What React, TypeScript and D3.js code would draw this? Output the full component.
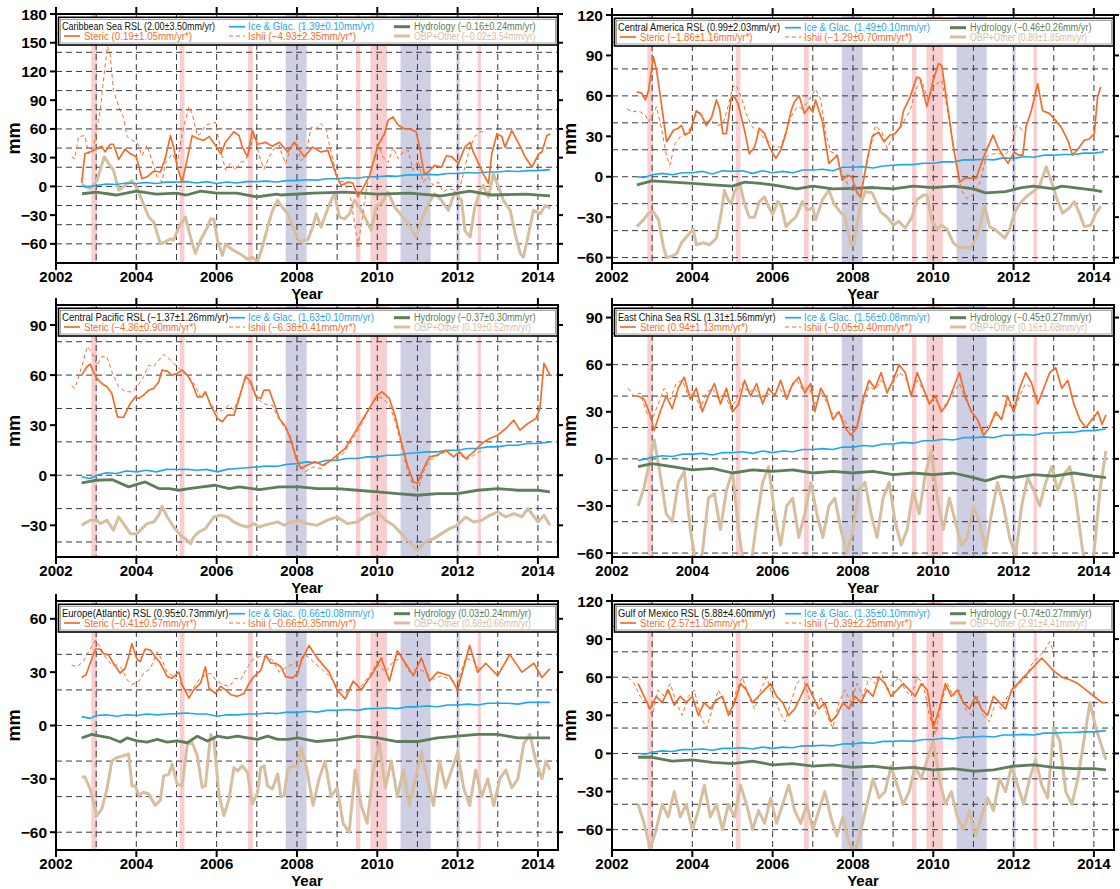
import React from 'react';
import * as d3 from 'd3';

type P = [number, number];

// ---------- shared ----------
const xTickYears = [2002, 2004, 2006, 2008, 2010, 2012, 2014];
const gridYears = [2003, 2004, 2005, 2006, 2007, 2008, 2009, 2010, 2011, 2012, 2013, 2014];
const pinkBands: P[] = [[2002.88, 2003.02], [2005.08, 2005.2], [2006.78, 2006.9], [2009.47, 2009.58], [2009.83, 2010.24], [2012.5, 2012.58]];
const blueBands: P[] = [[2007.72, 2008.24], [2010.58, 2011.33], [2011.97, 2012.05]];

// ---------- Caribbean Sea ----------
const caribSteric: P[] = [[2002.64,3.5],[2002.72,34],[2002.85,36],[2003.0,39],[2003.14,42],[2003.22,36],[2003.35,44],[2003.43,44],[2003.56,28],[2003.72,39],[2003.85,34],[2004.0,31],[2004.14,8],[2004.27,10],[2004.43,16],[2004.6,15],[2004.72,29],[2004.85,53],[2004.93,41],[2005.02,20],[2005.14,4.5],[2005.27,29],[2005.39,53],[2005.52,50],[2005.68,48],[2005.81,52],[2005.97,43],[2006.1,34],[2006.22,46],[2006.43,57],[2006.56,53],[2006.64,41],[2006.77,31],[2006.89,58.5],[2007.02,44],[2007.22,46],[2007.39,42],[2007.56,46],[2007.77,36],[2007.93,46],[2008.18,31],[2008.39,41],[2008.6,36],[2008.77,37.6],[2008.98,11.5],[2009.1,1],[2009.27,4.5],[2009.39,3.5],[2009.52,-11],[2009.64,-2.4],[2009.81,11.5],[2010.02,43],[2010.18,55],[2010.27,69],[2010.39,72.5],[2010.52,64],[2010.68,60],[2010.81,60],[2010.97,57],[2011.06,39],[2011.17,13],[2011.27,15],[2011.43,22],[2011.6,20],[2011.72,32],[2011.85,31],[2012.02,24],[2012.18,41],[2012.31,46],[2012.39,36],[2012.52,24],[2012.64,13],[2012.77,3],[2012.85,34],[2012.98,55],[2013.1,52],[2013.18,41],[2013.35,58.5],[2013.52,45],[2013.68,31],[2013.85,20],[2014.02,34],[2014.1,36],[2014.22,53],[2014.31,55]];
const caribIshii: P[] = [[2002.39,31],[2002.47,29],[2002.56,52],[2002.72,53],[2002.81,34],[2002.93,41],[2003.02,62],[2003.1,79],[2003.22,125],[2003.28,146],[2003.35,137],[2003.43,100],[2003.6,79],[2003.68,72],[2003.77,52],[2003.89,48],[2004.02,46],[2004.14,32],[2004.27,43],[2004.39,27],[2004.52,10],[2004.64,4.5],[2004.72,24],[2004.89,34],[2005.02,24],[2005.14,55],[2005.31,83],[2005.39,76],[2005.52,53],[2005.6,55],[2005.72,64],[2005.85,65.5],[2005.97,67],[2006.1,38],[2006.22,17],[2006.35,24],[2006.47,17],[2006.6,25],[2006.72,27],[2006.85,41],[2006.93,55],[2007.06,32],[2007.18,18],[2007.31,31],[2007.43,39],[2007.56,43],[2007.6,36],[2007.72,24],[2007.85,41],[2007.98,46],[2008.1,27],[2008.22,31],[2008.35,62],[2008.48,60],[2008.6,65.5],[2008.72,60],[2008.85,36],[2009.02,6],[2009.18,4.5],[2009.35,-14.6],[2009.52,-63],[2009.64,-28.6],[2009.73,-2.4],[2009.85,18.5],[2010.02,44.6],[2010.14,31],[2010.27,25],[2010.39,41],[2010.52,29],[2010.64,36],[2010.77,37.6],[2010.89,17],[2011.02,27],[2011.14,4.5],[2011.27,10],[2011.39,1],[2011.52,4.5],[2011.64,-6],[2011.77,-2.4],[2011.93,-4],[2012.06,-0.7],[2012.18,20],[2012.31,41],[2012.43,52],[2012.56,57],[2012.64,57]];
const caribIce: P[] = [[2002.65,0],[2002.8,-0.5],[2003.0,1],[2003.25,2.5],[2003.5,2],[2003.75,3.5],[2004.0,3],[2004.25,4],[2004.5,3],[2004.75,4.5],[2005.0,4.5],[2005.25,5],[2005.5,3.5],[2005.75,5],[2006.0,3],[2006.25,4.5],[2006.5,3.5],[2006.75,5],[2007.0,5],[2007.25,5.5],[2007.5,4.5],[2007.75,6],[2008.0,6],[2008.25,7],[2008.5,6.5],[2008.75,8],[2009.0,8],[2009.25,9],[2009.5,8.5],[2009.75,10],[2010.0,10],[2010.25,11],[2010.5,10.5],[2010.75,12],[2011.0,12],[2011.25,12.5],[2011.5,12],[2011.75,13.5],[2012.0,13.5],[2012.25,14.5],[2012.5,14],[2012.75,15],[2013.0,15],[2013.25,16],[2013.5,15.5],[2013.75,16.5],[2014.0,16.5],[2014.3,17.5]];
const caribHydro: P[] = [[2002.65,-7.7],[2003.0,-6],[2003.5,-9],[2004.0,-5],[2004.5,-8],[2005.0,-7],[2005.25,-9],[2005.6,-5],[2006.0,-7],[2006.5,-7],[2007.0,-11],[2007.5,-8],[2007.6,-9],[2008.4,-7],[2009.2,-6],[2010.0,-8],[2010.8,-7],[2011.6,-10],[2012.3,-5],[2012.85,-9],[2013.7,-8],[2014.3,-10]];
const caribObp: P[] = [[2002.64,2],[2002.85,-2.4],[2003.02,6],[2003.2,31],[2003.31,24],[2003.43,17],[2003.56,-4],[2003.72,1],[2003.89,6],[2004.02,-2.4],[2004.14,-14.6],[2004.31,-32],[2004.43,-37],[2004.6,-60],[2004.72,-58],[2004.85,-55],[2004.93,-56],[2005.06,-42.5],[2005.22,-32],[2005.35,-53],[2005.47,-70],[2005.6,-56],[2005.77,-42.5],[2005.85,-34],[2005.93,-34],[2006.02,-56],[2006.14,-72],[2006.22,-60],[2006.35,-65],[2006.52,-69],[2006.64,-72],[2006.77,-76],[2006.89,-74],[2007.02,-79],[2007.14,-63],[2007.27,-42.5],[2007.39,-25],[2007.52,-14.6],[2007.6,-20],[2007.77,-28.6],[2007.93,-46],[2008.06,-58],[2008.18,-56],[2008.27,-56],[2008.39,-42.5],[2008.48,-28.6],[2008.6,-42.5],[2008.72,-28.6],[2008.85,-14.6],[2008.93,-7.7],[2009.06,-32],[2009.18,-34],[2009.31,-28.6],[2009.43,-14.6],[2009.56,-21.6],[2009.73,-35.5],[2009.85,-46],[2009.98,-20],[2010.1,-18],[2010.27,-6],[2010.43,-21.6],[2010.6,-30],[2010.77,-39],[2010.97,-53],[2011.1,-35.5],[2011.27,-18],[2011.43,-7.7],[2011.6,-14.6],[2011.77,-25],[2011.93,-6],[2012.1,-14.6],[2012.18,-46],[2012.31,-53],[2012.43,-21.6],[2012.56,-4],[2012.64,1],[2012.77,-11],[2012.89,13],[2013.02,-0.7],[2013.14,-14.6],[2013.31,-25],[2013.43,-49],[2013.56,-70],[2013.64,-74],[2013.77,-49],[2013.89,-25],[2014.06,-28.6],[2014.18,-20],[2014.31,-23]];

// ---------- Central America ----------
const camSteric: P[] = [[2002.62,63],[2002.74,62],[2002.83,57],[2002.91,64],[2003.03,89],[2003.11,79],[2003.24,52],[2003.36,26],[2003.53,34.5],[2003.65,36],[2003.73,38],[2003.82,31],[2003.94,33],[2004.1,49],[2004.23,45.6],[2004.35,38],[2004.48,44],[2004.6,57],[2004.68,50.5],[2004.76,32],[2004.85,32],[2004.97,59],[2005.05,59],[2005.14,54],[2005.3,34.5],[2005.42,17],[2005.55,22],[2005.67,36],[2005.8,32],[2005.92,22],[2006.08,13.6],[2006.2,19.7],[2006.33,32],[2006.46,49],[2006.54,55.5],[2006.66,60],[2006.79,47],[2006.91,52],[2007.0,48],[2007.07,57],[2007.24,41],[2007.32,25],[2007.4,10],[2007.53,13.6],[2007.61,16],[2007.73,-2.5],[2007.86,1],[2007.97,0],[2008.1,-12],[2008.19,-15],[2008.35,12],[2008.48,30],[2008.64,33],[2008.77,26],[2008.93,31],[2009.05,32],[2009.18,37],[2009.26,49],[2009.42,59],[2009.59,74],[2009.67,73],[2009.84,52],[2010.0,71.5],[2010.13,84],[2010.21,82.6],[2010.37,49],[2010.5,22],[2010.66,-4],[2010.79,-1],[2010.95,-1],[2011.07,-1],[2011.24,13.6],[2011.36,22],[2011.49,31],[2011.61,22],[2011.74,15],[2011.86,10],[2012.02,18.5],[2012.11,16],[2012.23,16],[2012.31,37],[2012.44,49],[2012.6,69],[2012.72,49],[2012.89,47],[2013.01,43],[2013.18,37],[2013.35,27],[2013.47,16],[2013.64,22],[2013.76,27],[2013.88,28],[2014.01,32],[2014.09,59],[2014.17,66.5]];
const camIshii: P[] = [[2002.37,50.5],[2002.5,48],[2002.66,49],[2002.83,45.6],[2002.91,40.7],[2003.03,47],[2003.11,52],[2003.24,34.5],[2003.36,15],[2003.44,8.6],[2003.57,24.7],[2003.73,31],[2003.9,33],[2004.06,44],[2004.19,48],[2004.31,40.7],[2004.48,42],[2004.6,38],[2004.76,39],[2004.89,52],[2005.01,66.5],[2005.09,68],[2005.22,59],[2005.34,47],[2005.47,38],[2005.63,33],[2005.75,29.6],[2005.92,26],[2006.04,22],[2006.2,22],[2006.37,37],[2006.5,47],[2006.62,52],[2006.74,50.5],[2006.91,57],[2007.07,65],[2007.2,57],[2007.32,32],[2007.45,18.5],[2007.57,17],[2007.73,2.5],[2007.9,-7.4],[2008.1,-11],[2008.19,-12],[2008.35,10],[2008.56,38],[2008.72,33],[2008.85,21],[2009.01,31],[2009.18,36],[2009.3,43],[2009.42,49],[2009.59,66.5],[2009.71,71.5],[2009.87,57],[2010.04,68],[2010.21,71.5],[2010.37,47],[2010.53,17],[2010.7,-10],[2010.83,-16],[2010.99,-13.6],[2011.16,-4],[2011.32,15],[2011.49,17],[2011.66,17],[2011.82,17],[2011.94,23],[2012.07,38],[2012.15,37],[2012.27,32]];
const camIce: P[] = [[2002.62,0],[2002.8,-0.5],[2003.0,1.5],[2003.25,2.5],[2003.5,1.5],[2003.75,3],[2004.0,3],[2004.25,4],[2004.5,2],[2004.75,4.5],[2005.0,4],[2005.25,4.5],[2005.5,2.5],[2005.75,4.5],[2006.0,3],[2006.25,4],[2006.5,3],[2006.75,5],[2007.0,5],[2007.25,5.5],[2007.5,4.5],[2007.75,7],[2008.0,7],[2008.25,7.5],[2008.5,6.5],[2008.75,8],[2009.0,8.5],[2009.25,9],[2009.5,9],[2009.75,10],[2010.0,10],[2010.25,11],[2010.5,11],[2010.75,12.5],[2011.0,12.5],[2011.25,13],[2011.5,12.5],[2011.75,14],[2012.0,13.5],[2012.25,15],[2012.5,14.5],[2012.75,16],[2013.0,16],[2013.25,16.5],[2013.5,16.5],[2013.75,17.5],[2014.0,17.5],[2014.25,18.5]];
const camHydro: P[] = [[2002.62,-6],[2003.0,-3],[2003.5,-4],[2004.0,-5],[2004.5,-6],[2005.0,-7],[2005.3,-4],[2005.7,-5],[2006.0,-6],[2006.6,-9],[2007.0,-7],[2007.5,-9],[2008.0,-8.6],[2008.5,-8],[2009.0,-9],[2009.5,-7],[2010.0,-8],[2010.5,-7],[2011.0,-9],[2011.3,-12],[2011.8,-11],[2012.2,-8],[2012.5,-7],[2013.0,-9],[2013.2,-7],[2014.0,-10],[2014.2,-11]];
const camObp: P[] = [[2002.62,-37],[2002.78,-32],[2002.91,-27],[2003.03,-26],[2003.16,-32],[2003.28,-52],[2003.36,-60],[2003.49,-59],[2003.61,-57],[2003.73,-49],[2003.9,-43],[2004.02,-39],[2004.1,-50.5],[2004.27,-49],[2004.43,-50.5],[2004.6,-45.6],[2004.72,-27],[2004.8,-10],[2004.89,-17],[2004.97,-20],[2005.05,-11],[2005.18,-5],[2005.3,-20],[2005.42,-30],[2005.55,-30],[2005.67,-18.5],[2005.8,-15],[2005.88,-21],[2006.0,-28],[2006.13,-18.5],[2006.21,-21],[2006.33,-37],[2006.46,-33],[2006.58,-30],[2006.74,-18.5],[2006.87,-24.7],[2007.0,-23],[2007.07,-32],[2007.24,-17],[2007.4,-10],[2007.53,-20],[2007.65,-25],[2007.81,-30],[2007.94,-50.5],[2008.02,-50.5],[2008.19,-20],[2008.31,-11],[2008.48,-12],[2008.69,-26],[2008.85,-30],[2009.01,-36],[2009.14,-33],[2009.3,-38],[2009.47,-30],[2009.59,-17],[2009.76,-13.6],[2009.84,-13.6],[2009.96,-32],[2010.09,-39],[2010.21,-36],[2010.34,-39],[2010.5,-49],[2010.66,-53],[2010.79,-52],[2010.91,-53],[2011.03,-48],[2011.16,-37],[2011.28,-21],[2011.4,-37],[2011.53,-39],[2011.65,-42],[2011.78,-45.6],[2011.9,-39],[2012.02,-27],[2012.15,-20],[2012.31,-15],[2012.48,-11],[2012.64,-7.4],[2012.81,7.4],[2012.93,-2.5],[2013.06,-15],[2013.22,-27],[2013.39,-23],[2013.51,-18.5],[2013.64,-27],[2013.76,-37],[2013.92,-36],[2014.05,-27],[2014.17,-22]];

// ---------- Central Pacific ----------
const cpacSteric: P[] = [[2002.64,60],[2002.77,65],[2002.85,66.6],[2002.93,62],[2003.02,58],[2003.14,55],[2003.27,53],[2003.39,49],[2003.53,35],[2003.68,34.6],[2003.85,43],[2003.98,47],[2004.06,46],[2004.18,48],[2004.31,51],[2004.43,52],[2004.56,56],[2004.64,63],[2004.77,62.4],[2004.89,60],[2005.02,61],[2005.14,63],[2005.27,60],[2005.39,55],[2005.52,47],[2005.64,47],[2005.72,50],[2005.85,42],[2006.02,34],[2006.14,32],[2006.27,36],[2006.43,36],[2006.56,46],[2006.72,59.4],[2006.85,56],[2006.98,47],[2007.1,46],[2007.18,51],[2007.31,51],[2007.43,43],[2007.56,34],[2007.72,29],[2007.85,21],[2007.98,10],[2008.1,4],[2008.25,6],[2008.45,8],[2008.65,6],[2008.85,9],[2009.0,12],[2009.2,16],[2009.4,24],[2009.6,32],[2009.8,40],[2010.0,48],[2010.12,50],[2010.3,46],[2010.45,35],[2010.6,20],[2010.75,6],[2010.9,-4],[2011.0,-5],[2011.15,4],[2011.3,11],[2011.5,12],[2011.7,15],[2011.9,11],[2012.05,14],[2012.2,10],[2012.4,14],[2012.6,19],[2012.8,22],[2013.0,24],[2013.2,28],[2013.4,33],[2013.55,27],[2013.75,31],[2013.95,34],[2014.05,40],[2014.15,67],[2014.3,60]];
const cpacIshii: P[] = [[2002.39,53.4],[2002.47,52],[2002.64,65],[2002.78,77],[2002.89,74],[2003.02,66],[2003.14,71],[2003.27,71],[2003.39,62],[2003.56,53],[2003.73,50],[2003.89,50],[2004.02,53],[2004.18,59],[2004.31,66],[2004.43,65],[2004.56,69],[2004.68,72.4],[2004.81,70],[2004.93,67],[2005.02,65],[2005.14,62],[2005.27,60],[2005.43,55],[2005.6,47],[2005.72,49],[2005.85,43],[2006.02,37],[2006.14,39],[2006.31,42],[2006.43,39],[2006.56,47],[2006.72,58],[2006.85,54],[2006.98,47],[2007.1,44],[2007.27,42],[2007.39,42],[2007.52,35],[2007.68,29],[2007.85,23],[2007.93,15],[2008.06,7],[2008.2,2],[2008.4,5],[2008.6,4],[2008.8,8],[2009.0,10],[2009.2,14],[2009.4,22],[2009.6,30],[2009.8,40],[2010.0,47],[2010.15,46],[2010.3,42],[2010.45,32],[2010.6,18],[2010.75,3],[2010.9,-7],[2011.0,-10],[2011.15,2],[2011.3,9],[2011.5,12],[2011.7,14],[2011.9,12],[2012.05,13],[2012.2,9],[2012.4,12],[2012.6,15]];
const cpacIce: P[] = [[2002.64,-1],[2002.85,-2],[2003.02,0],[2003.25,1.5],[2003.5,1],[2003.75,2.5],[2004.02,2],[2004.25,3],[2004.5,2],[2004.75,3.5],[2005.02,3.4],[2005.25,3.5],[2005.52,3],[2005.75,3.5],[2006.02,2],[2006.25,3.5],[2006.52,4],[2006.75,4.5],[2007.02,5],[2007.25,5.5],[2007.52,5.4],[2007.75,6.5],[2008.02,7],[2008.25,8],[2008.5,7.5],[2008.75,9],[2009.0,9],[2009.25,10],[2009.5,10],[2009.75,11],[2010.0,11],[2010.25,12],[2010.5,12],[2010.75,13],[2011.0,13.5],[2011.25,14],[2011.5,14],[2011.75,15],[2012.0,15],[2012.25,16],[2012.5,16],[2012.75,17],[2013.0,17],[2013.25,18],[2013.5,18],[2013.75,19],[2014.0,19],[2014.3,20]];
const cpacHydro: P[] = [[2002.64,-4.6],[2003.02,-3],[2003.39,-2.6],[2003.81,-7],[2004.22,-4],[2004.56,-8],[2004.81,-8],[2005.06,-9],[2005.31,-8],[2005.64,-7],[2005.97,-6],[2006.31,-8],[2006.56,-7],[2007.06,-8.6],[2007.56,-7],[2008.06,-7],[2008.5,-8],[2009.0,-8],[2009.5,-9],[2010.0,-10],[2010.5,-11],[2011.0,-12],[2011.5,-11],[2012.0,-11],[2012.5,-9],[2013.0,-8],[2013.5,-9],[2014.0,-9],[2014.3,-10]];
const cpacObp: P[] = [[2002.64,-30],[2002.85,-27],[2003.02,-27],[2003.1,-29],[2003.27,-27],[2003.43,-33],[2003.56,-25],[2003.68,-29],[2003.85,-35],[2004.02,-35],[2004.14,-32],[2004.27,-29],[2004.43,-28],[2004.56,-24],[2004.64,-18.6],[2004.77,-25],[2004.93,-31],[2005.1,-36],[2005.27,-39],[2005.35,-41],[2005.43,-37],[2005.56,-34],[2005.72,-32],[2005.81,-29],[2005.93,-25],[2006.1,-24],[2006.27,-25],[2006.43,-28],[2006.6,-30],[2006.77,-31],[2006.93,-29],[2007.06,-31],[2007.18,-30],[2007.35,-29],[2007.52,-28],[2007.68,-30],[2007.85,-28],[2008.02,-27],[2008.25,-29],[2008.5,-30],[2008.75,-27],[2009.0,-25],[2009.25,-29],[2009.5,-28],[2009.75,-24],[2010.0,-22],[2010.2,-27],[2010.4,-30],[2010.6,-35],[2010.8,-40],[2011.0,-45],[2011.2,-40],[2011.4,-38],[2011.6,-35],[2011.8,-32],[2012.0,-30],[2012.2,-25],[2012.4,-28],[2012.6,-27],[2012.8,-24],[2013.0,-22],[2013.2,-25],[2013.4,-23],[2013.6,-25],[2013.75,-20],[2014.0,-28],[2014.15,-24],[2014.3,-30]];

// ---------- East China Sea ----------
const ecsSteric: P[] = [[2002.65,40],[2002.8,38],[2002.95,28],[2003.05,18],[2003.2,30],[2003.35,40],[2003.5,32],[2003.65,45],[2003.8,52],[2003.95,38],[2004.1,45],[2004.25,30],[2004.4,40],[2004.55,48],[2004.7,35],[2004.85,45],[2005.0,30],[2005.15,35],[2005.3,50],[2005.45,40],[2005.6,48],[2005.75,35],[2005.9,45],[2006.05,40],[2006.2,50],[2006.35,38],[2006.5,48],[2006.65,52],[2006.8,42],[2006.95,48],[2007.05,30],[2007.2,45],[2007.35,38],[2007.5,25],[2007.65,30],[2007.8,20],[2007.95,15],[2008.1,20],[2008.25,38],[2008.4,50],[2008.55,45],[2008.7,55],[2008.85,42],[2009.0,50],[2009.15,60],[2009.3,55],[2009.45,40],[2009.6,55],[2009.75,45],[2009.9,35],[2010.05,40],[2010.2,30],[2010.35,35],[2010.5,45],[2010.65,55],[2010.8,40],[2010.95,30],[2011.1,25],[2011.25,15],[2011.4,20],[2011.55,30],[2011.7,25],[2011.85,40],[2012.0,30],[2012.15,45],[2012.3,55],[2012.45,48],[2012.6,35],[2012.75,45],[2012.9,55],[2013.05,58],[2013.2,45],[2013.35,50],[2013.5,35],[2013.65,25],[2013.8,20],[2013.95,25],[2014.1,30],[2014.2,22],[2014.3,28]];
const ecsIshii: P[] = [[2002.4,45],[2002.55,40],[2002.7,42],[2002.85,30],[2003.0,25],[2003.15,35],[2003.3,45],[2003.45,38],[2003.6,48],[2003.75,50],[2003.9,40],[2004.05,42],[2004.2,32],[2004.35,42],[2004.5,45],[2004.65,38],[2004.8,42],[2004.95,32],[2005.1,38],[2005.25,48],[2005.4,42],[2005.55,45],[2005.7,38],[2005.85,42],[2006.0,40],[2006.15,46],[2006.3,40],[2006.45,45],[2006.6,50],[2006.75,44],[2006.9,46],[2007.05,35],[2007.2,42],[2007.35,36],[2007.5,28],[2007.65,30],[2007.8,24],[2007.95,18],[2008.1,22],[2008.25,35],[2008.4,46],[2008.55,44],[2008.7,50],[2008.85,44],[2009.0,48],[2009.15,55],[2009.3,52],[2009.45,42],[2009.6,50],[2009.75,44],[2009.9,36],[2010.05,38],[2010.2,32],[2010.35,36],[2010.5,42],[2010.65,48],[2010.8,38],[2010.95,30],[2011.1,25],[2011.25,18],[2011.4,22],[2011.55,28],[2011.7,26],[2011.85,36],[2012.0,30],[2012.15,40],[2012.3,48],[2012.45,45],[2012.6,38]];
const ecsIce: P[] = [[2002.65,-1],[2002.85,0],[2003.0,1],[2003.25,2],[2003.5,1.5],[2003.75,3],[2004.0,3],[2004.25,3.5],[2004.5,2.5],[2004.75,4],[2005.0,4],[2005.25,4.5],[2005.5,3.5],[2005.75,5],[2006.0,4],[2006.25,5],[2006.5,4.5],[2006.75,6],[2007.0,6],[2007.25,6.5],[2007.5,6],[2007.75,7.5],[2008.0,7.5],[2008.25,8.5],[2008.5,8],[2008.75,9.5],[2009.0,9.5],[2009.25,10.5],[2009.5,10],[2009.75,11.5],[2010.0,11.5],[2010.25,12.5],[2010.5,12],[2010.75,13.5],[2011.0,13.5],[2011.25,14],[2011.5,13.5],[2011.75,15],[2012.0,15],[2012.25,15.5],[2012.5,15],[2012.75,16.5],[2013.0,16.5],[2013.25,17],[2013.5,17],[2013.75,18],[2014.0,18],[2014.3,19]];
const ecsHydro: P[] = [[2002.65,-5],[2003.0,-3],[2003.5,-5],[2004.0,-7],[2004.5,-6],[2005.0,-9],[2005.5,-7],[2006.0,-8],[2006.5,-7],[2007.0,-9],[2007.5,-8],[2008.0,-9],[2008.5,-8],[2009.0,-10],[2009.5,-9],[2010.0,-10],[2010.5,-9],[2011.0,-12],[2011.3,-14],[2011.7,-11],[2012.0,-12],[2012.5,-10],[2013.0,-11],[2013.5,-9],[2014.0,-11],[2014.3,-12]];
const ecsObp: P[] = [[2002.65,-30],[2002.8,-18],[2002.95,0],[2003.05,12],[2003.2,-10],[2003.35,-35],[2003.5,-40],[2003.65,-15],[2003.8,-8],[2003.95,-45],[2004.1,-68],[2004.25,-60],[2004.4,-25],[2004.55,-22],[2004.7,-45],[2004.85,-20],[2005.0,-8],[2005.15,-45],[2005.3,-72],[2005.45,-70],[2005.6,-40],[2005.75,-15],[2005.9,-5],[2006.05,-35],[2006.2,-55],[2006.35,-30],[2006.5,-25],[2006.65,-50],[2006.8,-35],[2006.95,-15],[2007.1,-35],[2007.25,-50],[2007.4,-30],[2007.55,-25],[2007.7,-45],[2007.85,-60],[2008.0,-45],[2008.15,-20],[2008.3,-15],[2008.45,-35],[2008.6,-50],[2008.75,-25],[2008.9,-15],[2009.05,-40],[2009.2,-55],[2009.35,-45],[2009.5,-20],[2009.65,-35],[2009.8,-10],[2009.95,5],[2010.1,-25],[2010.25,-45],[2010.4,-25],[2010.55,-40],[2010.7,-55],[2010.85,-50],[2011.0,-30],[2011.15,-40],[2011.3,-58],[2011.45,-35],[2011.6,-15],[2011.75,-30],[2011.9,-50],[2012.05,-62],[2012.2,-30],[2012.35,-12],[2012.5,-20],[2012.65,-30],[2012.8,-15],[2012.95,-5],[2013.1,-20],[2013.25,-10],[2013.4,-5],[2013.55,-25],[2013.7,-55],[2013.85,-80],[2014.0,-60],[2014.15,-20],[2014.3,5]];

// ---------- Europe (Atlantic) ----------
const eurSteric: P[] = [[2002.64,27],[2002.75,28.5],[2002.85,35],[2002.98,43],[2003.1,43],[2003.18,40.5],[2003.31,39.6],[2003.43,35],[2003.6,29.4],[2003.72,32],[2003.81,38.7],[2003.89,46],[2004.02,37],[2004.1,36],[2004.22,43],[2004.35,42.4],[2004.47,38.7],[2004.6,35],[2004.77,27.5],[2004.89,26.6],[2005.06,30],[2005.14,23],[2005.31,15.4],[2005.43,20],[2005.6,23.8],[2005.72,33],[2005.81,21],[2005.97,18],[2006.1,22],[2006.22,20],[2006.35,17.3],[2006.52,16.4],[2006.68,18],[2006.81,23.8],[2006.93,27.5],[2007.1,31],[2007.22,39.6],[2007.35,35],[2007.47,35],[2007.6,33],[2007.72,27.5],[2007.89,26.6],[2008.02,29.4],[2008.1,36],[2008.3,45],[2008.5,38],[2008.8,30],[2009.0,20],[2009.2,15],[2009.4,25],[2009.6,20],[2009.9,30],[2010.1,38],[2010.3,25],[2010.5,42],[2010.7,35],[2010.9,28],[2011.1,38],[2011.3,25],[2011.5,30],[2011.8,28],[2012.0,20],[2012.3,45],[2012.5,30],[2012.7,35],[2013.0,28],[2013.3,40],[2013.6,30],[2013.9,35],[2014.1,27],[2014.3,32]];
const eurIshii: P[] = [[2002.39,34],[2002.52,33],[2002.68,36],[2002.81,41.5],[2002.98,48],[2003.1,44],[2003.22,38.7],[2003.39,34],[2003.52,34],[2003.64,32],[2003.77,25.7],[2003.89,23],[2004.06,24.7],[2004.18,29.4],[2004.35,32],[2004.52,41.5],[2004.64,36.8],[2004.77,30],[2004.93,27.5],[2005.1,23.8],[2005.27,18],[2005.39,20],[2005.56,25.7],[2005.72,28.5],[2005.85,29.4],[2005.97,25.7],[2006.14,23],[2006.31,22],[2006.47,26.6],[2006.6,25.7],[2006.77,33],[2006.89,36.8],[2007.06,38.7],[2007.22,38.7],[2007.39,36.8],[2007.56,30],[2007.68,32],[2007.85,34],[2008.02,36],[2008.2,40],[2008.4,36],[2008.6,32],[2008.8,28],[2009.0,22],[2009.2,18],[2009.4,24],[2009.6,22],[2009.8,28],[2010.0,35],[2010.2,30],[2010.4,36],[2010.6,38],[2010.8,30],[2011.0,32],[2011.2,30],[2011.4,26],[2011.6,28],[2011.8,26],[2012.0,24],[2012.2,38],[2012.4,36],[2012.6,30]];
const eurIce: P[] = [[2002.64,5],[2002.85,4],[2003.02,5.6],[2003.25,6],[2003.52,5.2],[2003.75,6],[2004.02,5.6],[2004.25,6.5],[2004.52,6],[2004.75,6.5],[2005.02,6.7],[2005.25,7],[2005.52,6.5],[2005.75,6.5],[2006.02,5.2],[2006.25,6],[2006.52,6],[2006.75,6.5],[2007.02,6.5],[2007.25,7],[2007.52,6.7],[2007.75,7.5],[2008.02,7.4],[2008.25,8],[2008.5,7.5],[2008.75,8.5],[2009.0,8.5],[2009.25,9],[2009.5,8.5],[2009.75,9.5],[2010.0,9.5],[2010.25,10],[2010.5,9.5],[2010.75,10.5],[2011.0,10.5],[2011.25,11],[2011.5,10.5],[2011.75,11.5],[2012.0,11.5],[2012.25,12],[2012.5,11.5],[2012.75,12.5],[2013.0,12.5],[2013.25,12.5],[2013.5,12],[2013.75,13],[2014.0,13],[2014.3,13]];
const eurHydro: P[] = [[2002.64,-7],[2002.89,-5],[2003.1,-6],[2003.35,-7],[2003.6,-9.3],[2003.77,-7],[2004.02,-8.7],[2004.27,-9.3],[2004.52,-7.8],[2004.77,-9.3],[2005.02,-8.7],[2005.27,-9.7],[2005.52,-6],[2005.77,-8.7],[2006.02,-6],[2006.27,-7],[2006.52,-6],[2006.77,-7],[2007.02,-7.8],[2007.27,-6],[2007.52,-7.8],[2007.77,-7.8],[2008.02,-7],[2008.5,-9],[2009.0,-8],[2009.5,-6],[2010.0,-7],[2010.5,-9],[2011.0,-9],[2011.5,-7],[2012.0,-6],[2012.5,-5],[2013.0,-5],[2013.5,-7],[2014.0,-7],[2014.3,-7]];
const eurObp: P[] = [[2002.64,-29],[2002.72,-29],[2002.85,-35.7],[2003.02,-50.6],[2003.14,-47],[2003.27,-35.7],[2003.39,-20],[2003.52,-18],[2003.68,-17],[2003.81,-16],[2003.89,-34],[2003.98,-34],[2004.06,-39.4],[2004.18,-37.6],[2004.31,-38.5],[2004.47,-45],[2004.6,-42],[2004.68,-28.3],[2004.81,-27.3],[2004.89,-21.8],[2005.02,-33],[2005.14,-34],[2005.27,-10.6],[2005.39,-9.7],[2005.52,-17],[2005.64,-34.8],[2005.72,-34],[2005.85,-5],[2005.93,-7.8],[2006.06,-39.4],[2006.18,-50.6],[2006.31,-41.3],[2006.43,-23.6],[2006.52,-25.5],[2006.64,-22.7],[2006.77,-26.4],[2006.89,-44],[2007.02,-37.6],[2007.1,-23.6],[2007.18,-22.7],[2007.27,-34],[2007.39,-35.7],[2007.52,-27.3],[2007.6,-40],[2007.68,-39.4],[2007.77,-24.5],[2007.89,-22.7],[2008.02,-23.6],[2008.1,-12.5],[2008.25,-25],[2008.4,-45],[2008.55,-30],[2008.7,-20],[2008.85,-40],[2009.0,-35],[2009.15,-55],[2009.3,-60],[2009.45,-25],[2009.6,-45],[2009.75,-55],[2009.9,-25],[2010.05,-10],[2010.2,-35],[2010.35,-20],[2010.5,-40],[2010.65,-25],[2010.8,-45],[2010.95,-30],[2011.1,-15],[2011.25,-30],[2011.4,-45],[2011.55,-20],[2011.7,-35],[2011.85,-25],[2012.0,-15],[2012.15,-35],[2012.3,-45],[2012.45,-25],[2012.6,-40],[2012.75,-30],[2012.9,-45],[2013.05,-30],[2013.2,-25],[2013.35,-35],[2013.5,-30],[2013.65,-10],[2013.8,-5],[2013.95,-20],[2014.1,-30],[2014.2,-20],[2014.3,-25]];

// ---------- Gulf of Mexico ----------
const gomSteric: P[] = [[2002.65,55],[2002.8,45],[2002.95,35],[2003.1,45],[2003.25,40],[2003.4,50],[2003.55,38],[2003.7,45],[2003.85,40],[2004.0,45],[2004.15,30],[2004.3,40],[2004.45,35],[2004.6,42],[2004.75,45],[2004.9,30],[2005.05,40],[2005.2,55],[2005.35,50],[2005.5,40],[2005.65,45],[2005.8,50],[2005.95,55],[2006.1,45],[2006.25,40],[2006.4,30],[2006.55,35],[2006.7,45],[2006.85,55],[2007.0,45],[2007.15,35],[2007.3,40],[2007.45,25],[2007.6,30],[2007.75,40],[2007.9,35],[2008.05,45],[2008.2,40],[2008.35,50],[2008.5,45],[2008.65,60],[2008.8,55],[2008.95,45],[2009.1,50],[2009.25,55],[2009.4,50],[2009.55,45],[2009.7,55],[2009.85,50],[2010.0,20],[2010.15,35],[2010.3,55],[2010.45,45],[2010.6,50],[2010.75,40],[2010.9,35],[2011.05,45],[2011.2,35],[2011.35,30],[2011.5,45],[2011.65,40],[2011.8,35],[2011.95,50],[2012.1,55],[2012.25,60],[2012.4,65],[2012.55,70],[2012.7,75],[2012.85,70],[2013.0,65],[2013.2,60],[2013.4,58],[2013.6,55],[2013.8,50],[2014.0,45],[2014.2,40],[2014.3,40]];
const gomIshii: P[] = [[2002.4,60],[2002.55,55],[2002.7,45],[2002.85,40],[2003.0,30],[2003.15,50],[2003.3,45],[2003.45,55],[2003.6,40],[2003.75,30],[2003.9,45],[2004.05,50],[2004.2,30],[2004.35,20],[2004.5,35],[2004.65,50],[2004.8,40],[2004.95,30],[2005.1,50],[2005.25,60],[2005.4,45],[2005.55,35],[2005.7,50],[2005.85,60],[2006.0,45],[2006.15,35],[2006.3,25],[2006.45,40],[2006.6,55],[2006.75,60],[2006.9,45],[2007.05,30],[2007.2,45],[2007.35,30],[2007.5,20],[2007.65,40],[2007.8,50],[2007.95,40],[2008.1,55],[2008.25,45],[2008.4,60],[2008.55,55],[2008.7,65],[2008.85,50],[2009.0,55],[2009.15,60],[2009.3,50],[2009.45,45],[2009.6,60],[2009.75,55],[2009.9,30],[2010.05,15],[2010.2,40],[2010.35,55],[2010.5,45],[2010.65,50],[2010.8,35],[2010.95,30],[2011.1,45],[2011.25,30],[2011.4,25],[2011.55,40],[2011.7,35],[2011.85,45],[2012.0,50],[2012.15,55],[2012.3,60],[2012.45,70],[2012.6,75],[2012.75,80],[2012.9,88],[2013.0,80]];
const gomIce: P[] = [[2002.65,0],[2002.85,-0.5],[2003.0,1],[2003.25,2],[2003.5,1.5],[2003.75,3],[2004.0,3],[2004.25,3.5],[2004.5,2.5],[2004.75,4],[2005.0,4],[2005.25,4.5],[2005.5,3.5],[2005.75,5],[2006.0,4],[2006.25,5],[2006.5,4.5],[2006.75,6],[2007.0,6],[2007.25,6.5],[2007.5,6],[2007.75,7.5],[2008.0,7.5],[2008.25,8.5],[2008.5,8],[2008.75,9.5],[2009.0,9.5],[2009.25,10],[2009.5,9.5],[2009.75,11],[2010.0,11],[2010.25,12],[2010.5,11.5],[2010.75,13],[2011.0,13],[2011.25,13.5],[2011.5,13],[2011.75,14.5],[2012.0,14.5],[2012.25,15],[2012.5,14.5],[2012.75,16],[2013.0,16],[2013.25,16.5],[2013.5,16.5],[2013.75,17],[2014.0,17],[2014.3,18]];
const gomHydro: P[] = [[2002.65,-3],[2003.0,-3],[2003.5,-6],[2004.0,-5],[2004.5,-7],[2005.0,-8],[2005.5,-6],[2006.0,-9],[2006.5,-8],[2007.0,-10],[2007.5,-9],[2008.0,-11],[2008.5,-10],[2009.0,-12],[2009.5,-11],[2010.0,-13],[2010.5,-12],[2011.0,-14],[2011.5,-13],[2012.0,-10],[2012.5,-9],[2013.0,-11],[2013.5,-12],[2014.0,-12],[2014.3,-13]];
const gomObp: P[] = [[2002.65,-40],[2002.8,-55],[2002.95,-75],[2003.1,-60],[2003.25,-40],[2003.4,-50],[2003.55,-30],[2003.7,-50],[2003.85,-40],[2004.0,-60],[2004.15,-45],[2004.3,-25],[2004.45,-50],[2004.6,-40],[2004.75,-60],[2004.9,-40],[2005.05,-50],[2005.2,-25],[2005.35,-40],[2005.5,-60],[2005.65,-45],[2005.8,-55],[2005.95,-35],[2006.1,-55],[2006.25,-40],[2006.4,-25],[2006.55,-45],[2006.7,-55],[2006.85,-40],[2007.0,-60],[2007.15,-45],[2007.3,-30],[2007.45,-50],[2007.6,-65],[2007.75,-50],[2007.9,-70],[2008.05,-78],[2008.2,-60],[2008.35,-40],[2008.5,-20],[2008.65,-35],[2008.8,-30],[2008.95,-10],[2009.1,-25],[2009.25,-40],[2009.4,-30],[2009.55,-10],[2009.7,-20],[2009.85,-5],[2010.0,10],[2010.15,-20],[2010.3,-40],[2010.45,-30],[2010.6,-50],[2010.75,-60],[2010.9,-45],[2011.05,-65],[2011.2,-50],[2011.35,-35],[2011.5,-45],[2011.65,-20],[2011.8,-30],[2011.95,-10],[2012.1,-25],[2012.25,-40],[2012.4,-20],[2012.55,-5],[2012.7,-25],[2012.85,-35],[2013.0,20],[2013.15,10],[2013.3,-30],[2013.45,-40],[2013.6,-20],[2013.75,10],[2013.9,40],[2014.05,20],[2014.2,5],[2014.3,-5]];

// ---------- panel definitions ----------
interface Panel {
  title: string; steric: string; ishii: string; ice: string; hydro: string; obp: string;
  left: number; top: number; width: number; height: number;
  yMin: number; yMax: number; yTicks: number[]; grid: number[];
  data: { steric: P[]; ishii: P[]; ice: P[]; hydro: P[]; obp: P[] };
}

const LW = 502;
const panels: Panel[] = [
  { title: 'Caribbean Sea RSL (2.00±3.50mm/yr)', steric: 'Steric (0.19±1.05mm/yr*)', ishii: 'Ishii (−4.93±2.35mm/yr*)', ice: 'Ice & Glac. (1.39±0.10mm/yr)', hydro: 'Hydrology (−0.16±0.24mm/yr)', obp: 'OBP+Other (−0.02±3.54mm/yr)',
    left: 56, top: 14, width: LW, height: 249, yMin: -80, yMax: 180, yTicks: [-60, -30, 0, 30, 60, 90, 120, 150, 180], grid: [-60, -40, -20, 0, 20, 40, 60, 80, 100, 120, 140, 160],
    data: { steric: caribSteric, ishii: caribIshii, ice: caribIce, hydro: caribHydro, obp: caribObp } },
  { title: 'Central America RSL (0.99±2.03mm/yr)', steric: 'Steric (−1.86±1.16mm/yr*)', ishii: 'Ishii (−1.29±0.70mm/yr*)', ice: 'Ice & Glac. (1.49±0.10mm/yr)', hydro: 'Hydrology (−0.46±0.26mm/yr)', obp: 'OBP+Other (0.89±1.85mm/yr)',
    left: 612, top: 15, width: LW, height: 248, yMin: -64, yMax: 120, yTicks: [-60, -30, 0, 30, 60, 90, 120], grid: [-60, -40, -20, 0, 20, 40, 60, 80, 100],
    data: { steric: camSteric, ishii: camIshii, ice: camIce, hydro: camHydro, obp: camObp } },
  { title: 'Central Pacific RSL (−1.37±1.26mm/yr)', steric: 'Steric (−4.36±0.90mm/yr*)', ishii: 'Ishii (−6.38±0.41mm/yr*)', ice: 'Ice & Glac. (1.63±0.10mm/yr)', hydro: 'Hydrology (−0.37±0.30mm/yr)', obp: 'OBP+Other (0.19±0.52mm/yr)',
    left: 56, top: 305, width: LW, height: 252, yMin: -49, yMax: 102, yTicks: [-30, 0, 30, 60, 90], grid: [-40, -20, 0, 20, 40, 60, 80, 100],
    data: { steric: cpacSteric, ishii: cpacIshii, ice: cpacIce, hydro: cpacHydro, obp: cpacObp } },
  { title: 'East China Sea RSL (1.31±1.56mm/yr)', steric: 'Steric (0.94±1.13mm/yr*)', ishii: 'Ishii (−0.05±0.40mm/yr*)', ice: 'Ice & Glac. (1.56±0.08mm/yr)', hydro: 'Hydrology (−0.45±0.27mm/yr)', obp: 'OBP+Other (0.16±1.68mm/yr)',
    left: 612, top: 305, width: LW, height: 252, yMin: -62.5, yMax: 98, yTicks: [-60, -30, 0, 30, 60, 90], grid: [-60, -40, -20, 0, 20, 40, 60, 80],
    data: { steric: ecsSteric, ishii: ecsIshii, ice: ecsIce, hydro: ecsHydro, obp: ecsObp } },
  { title: 'Europe(Atlantic) RSL (0.95±0.73mm/yr)', steric: 'Steric (−0.41±0.57mm/yr*)', ishii: 'Ishii (−0.66±0.35mm/yr*)', ice: 'Ice & Glac. (0.66±0.08mm/yr)', hydro: 'Hydrology (0.03±0.24mm/yr)', obp: 'OBP+Other (0.68±0.66mm/yr)',
    left: 56, top: 601, width: LW, height: 249, yMin: -70, yMax: 70, yTicks: [-60, -30, 0, 30, 60], grid: [-60, -40, -20, 0, 20, 40, 60],
    data: { steric: eurSteric, ishii: eurIshii, ice: eurIce, hydro: eurHydro, obp: eurObp } },
  { title: 'Gulf of Mexico RSL (5.88±4.60mm/yr)', steric: 'Steric (2.57±1.05mm/yr*)', ishii: 'Ishii (−0.39±2.25mm/yr*)', ice: 'Ice & Glac. (1.35±0.10mm/yr)', hydro: 'Hydrology (−0.74±0.27mm/yr)', obp: 'OBP+Other (2.91±4.41mm/yr)',
    left: 612, top: 601, width: LW, height: 249, yMin: -76, yMax: 120, yTicks: [-60, -30, 0, 30, 60, 90, 120], grid: [-60, -40, -20, 0, 20, 40, 60, 80, 100],
    data: { steric: gomSteric, ishii: gomIshii, ice: gomIce, hydro: gomHydro, obp: gomObp } },
];

const C = {
  steric: '#F36D2A',
  ice: '#1DA8EE',
  hydro: '#5E7D5A',
  obp: '#D6BE9F',
  pink: '#F9CED1',
  blue: '#CFCFE4',
  grid: '#3a3a3a',
};

const tickFont = "'Liberation Sans', Arial, sans-serif";
const legFont = "'Liberation Sans', Arial, sans-serif";
const CH = 4.5; // legend glyph advance (px per character)

function LegText({ x, y, fill, s }: { x: number; y: number; fill: string; s: string }) {
  return (
    <text x={x} y={y} fill={fill} textLength={s.length * CH} lengthAdjust="spacingAndGlyphs">{s}</text>
  );
}

function PanelView({ p, idx }: { p: Panel; idx: number }) {
  const x = d3.scaleLinear().domain([2002, 2014.5]).range([p.left, p.left + p.width]);
  const y = d3.scaleLinear().domain([p.yMin, p.yMax]).range([p.top + p.height, p.top]);
  const line = d3.line<P>().x(d => x(d[0])).y(d => y(d[1]));
  const clipId = `clip${idx}`;
  const right = p.left + p.width;
  const bottom = p.top + p.height;
  const lx = p.left;
  const ly = p.top;
  const col2 = lx + 173;
  const col3 = lx + 338;
  const r1 = ly + 12.7;
  const r2 = ly + 22;
  const dy = 3.5;
  return (
    <g>
      <defs>
        <clipPath id={clipId}><rect x={p.left} y={p.top} width={p.width} height={p.height} /></clipPath>
      </defs>
      <g clipPath={`url(#${clipId})`}>
        {pinkBands.map((b, i) => (
          <rect key={'pk' + i} x={x(b[0])} y={p.top} width={x(b[1]) - x(b[0])} height={p.height} fill={C.pink} />
        ))}
        {blueBands.map((b, i) => (
          <rect key={'bl' + i} x={x(b[0])} y={p.top} width={x(b[1]) - x(b[0])} height={p.height} fill={C.blue} />
        ))}
        {p.grid.map(g => (
          <line key={'gy' + g} x1={p.left} x2={right} y1={y(g)} y2={y(g)} stroke={C.grid} strokeWidth={1} strokeDasharray="6,4" />
        ))}
        {gridYears.map(g => (
          <line key={'gx' + g} x1={x(g)} x2={x(g)} y1={p.top} y2={bottom} stroke={C.grid} strokeWidth={1} strokeDasharray="6,4" />
        ))}
        <path d={line(p.data.obp) || ''} fill="none" stroke={C.obp} strokeWidth={3} strokeLinejoin="round" />
        <path d={line(p.data.hydro) || ''} fill="none" stroke={C.hydro} strokeWidth={2.8} strokeLinejoin="round" />
        <path d={line(p.data.ice) || ''} fill="none" stroke={C.ice} strokeWidth={1.6} strokeLinejoin="round" />
        <path d={line(p.data.ishii) || ''} fill="none" stroke={C.steric} strokeWidth={1} strokeDasharray="4,3" />
        <path d={line(p.data.steric) || ''} fill="none" stroke={C.steric} strokeWidth={1.7} strokeLinejoin="round" />
      </g>
      {/* legend */}
      <rect x={lx + 2.5} y={ly + 3.3} width={p.width - 3} height={27.7} fill="#fff" stroke="#000" strokeWidth={1.6} />
      <rect x={lx + 4.5} y={ly + 5.3} width={p.width - 7} height={23.7} fill="none" stroke="#666" strokeWidth={0.6} />
      <g fontFamily={legFont} fontSize={10}>
        <LegText x={lx + 6} y={r1 + dy} fill="#111" s={p.title} />
        <line x1={lx + 8} x2={lx + 24} y1={r2} y2={r2} stroke={C.steric} strokeWidth={1.7} />
        <LegText x={lx + 28} y={r2 + dy} fill={C.steric} s={p.steric} />
        <line x1={col2} x2={col2 + 16} y1={r1} y2={r1} stroke={C.ice} strokeWidth={1.7} />
        <LegText x={col2 + 19} y={r1 + dy} fill={C.ice} s={p.ice} />
        <line x1={col2} x2={col2 + 16} y1={r2} y2={r2} stroke={C.steric} strokeWidth={1} strokeDasharray="4,3" />
        <LegText x={col2 + 19} y={r2 + dy} fill={C.steric} s={p.ishii} />
        <line x1={col3} x2={col3 + 16} y1={r1} y2={r1} stroke={C.hydro} strokeWidth={3} />
        <LegText x={col3 + 20} y={r1 + dy} fill={C.hydro} s={p.hydro} />
        <line x1={col3} x2={col3 + 16} y1={r2} y2={r2} stroke={C.obp} strokeWidth={3} />
        <LegText x={col3 + 20} y={r2 + dy} fill={C.obp} s={p.obp} />
      </g>
      {/* frame */}
      <rect x={p.left} y={p.top} width={p.width} height={p.height} fill="none" stroke="#000" strokeWidth={2} />
      {/* y ticks */}
      {p.yTicks.map(t => (
        <g key={'yt' + t}>
          <line x1={p.left - 6} x2={p.left} y1={y(t)} y2={y(t)} stroke="#000" strokeWidth={2} />
          <line x1={right} x2={right + 5} y1={y(t)} y2={y(t)} stroke="#000" strokeWidth={2} />
          <text x={p.left - 9} y={y(t) + 5.5} textAnchor="end" fontFamily={tickFont} fontWeight="bold" fontSize={15.5} fill="#000">{t < 0 ? '−' + Math.abs(t) : String(t)}</text>
        </g>
      ))}
      {/* x ticks */}
      {xTickYears.map(t => (
        <g key={'xt' + t}>
          <line x1={x(t)} x2={x(t)} y1={bottom} y2={bottom + 7} stroke="#000" strokeWidth={2} />
          <line x1={x(t)} x2={x(t)} y1={p.top - 7} y2={p.top} stroke="#000" strokeWidth={2} />
          <text x={x(t)} y={bottom + 18.5} textAnchor="middle" fontFamily={tickFont} fontWeight="bold" fontSize={15} fill="#000">{t}</text>
        </g>
      ))}
      <text x={(p.left + right) / 2} y={bottom + 35.5} textAnchor="middle" fontFamily={tickFont} fontWeight="bold" fontSize={15} fill="#000">Year</text>
      <text transform={`translate(${p.left - 36},${(p.top + bottom) / 2}) rotate(-90)`} textAnchor="middle" fontFamily={tickFont} fontWeight="bold" fontSize={18} fill="#000">mm</text>
    </g>
  );
}

export default function App() {
  return (
    <svg width={1120} height={889} style={{ position: 'absolute', left: 0, top: 0, background: '#fff' }}>
      <rect width={1120} height={889} fill="#fff" />
      {panels.map((p, i) => <PanelView key={i} p={p} idx={i} />)}
    </svg>
  );
}
